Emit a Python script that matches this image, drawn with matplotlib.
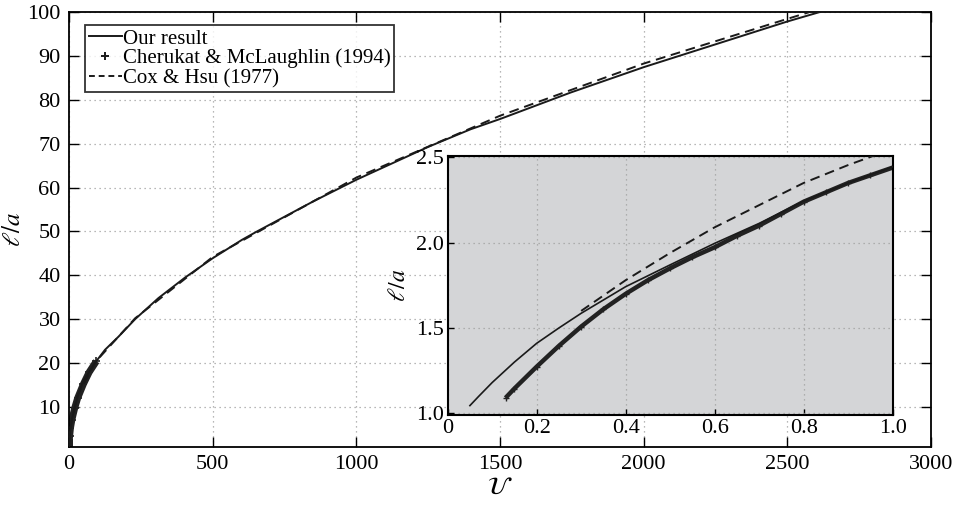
import matplotlib
matplotlib.use("Agg")
import matplotlib.pyplot as plt
from matplotlib.lines import Line2D

plt.rcParams['font.family'] = ['Liberation Serif', 'DejaVu Serif']
plt.rcParams['mathtext.fontset'] = 'stix'

# --- data ---
U_ours = [0.05, 0.07, 0.1, 0.15, 0.2, 0.25, 0.3, 0.4, 0.5, 0.6, 0.7, 0.8, 0.9, 1.0,
          3, 10, 30, 50, 90, 125, 172, 230, 311, 404, 500, 602, 654, 851, 1000, 1250,
          1397, 1502, 1746, 2001, 2500, 2610]
l_ours = [1.045, 1.10, 1.18, 1.30, 1.41, 1.50, 1.586, 1.742, 1.87, 1.996, 2.113, 2.244, 2.35, 2.445,
          4.09, 7.17, 12.5, 15.9, 20.0, 23.0, 26.0, 30.0, 34.8, 39.5, 43.9, 48.1, 50.0, 56.9, 61.8, 69.3,
          73.3, 75.7, 81.7, 87.5, 97.9, 100.0]

U_cher = [0.13, 0.15, 0.2, 0.25, 0.3, 0.35, 0.4, 0.45, 0.5, 0.55, 0.6, 0.65, 0.7, 0.75,
          0.8, 0.85, 0.9, 0.95, 1.0, 2, 5, 10, 20, 30, 50, 70, 95]
l_cher = [1.09, 1.145, 1.273, 1.395, 1.508, 1.61, 1.70, 1.78, 1.85, 1.915, 1.973, 2.04, 2.10, 2.17,
          2.24, 2.295, 2.35, 2.395, 2.44, 3.38, 5.2, 7.1, 9.8, 12.0, 15.2, 17.9, 20.4]

U_cox = [0.3, 0.4, 0.5, 0.6, 0.7, 0.8, 0.9, 1.0, 3, 10, 30, 90, 230, 500, 1000, 1500, 2000, 2500, 2575]
l_cox = [1.60, 1.78, 1.94, 2.09, 2.22, 2.35, 2.455, 2.55, 4.2, 7.25, 12.6, 20.1, 30.2, 44.2, 62.3, 76.4, 88.3, 98.5, 100.0]

main_xticks = [0, 500, 1000, 1500, 2000, 2500, 3000]
main_yticks = [10, 20, 30, 40, 50, 60, 70, 80, 90, 100]
inset_xticks = [0, 0.2, 0.4, 0.6, 0.8, 1.0]
inset_xticklabels = ['0', '0.2', '0.4', '0.6', '0.8', '1.0']
inset_yticks = [1.0, 1.5, 2.0, 2.5]
inset_yticklabels = ['1.0', '1.5', '2.0', '2.5']

labels = ['Our result', 'Cherukat & McLaughlin (1994)', 'Cox & Hsu (1977)']

fig = plt.figure(figsize=(9.59, 5.12), dpi=100)
ax = fig.add_axes([0.0720, 0.1275, 0.8988, 0.8485])

grid_kw = dict(color='#a0a0a0', linestyle=(0, (1, 3)), linewidth=0.9)
dash = (0, (5, 3))

# main
ax.plot(U_cher, l_cher, color='#222222', lw=5, solid_capstyle='butt', zorder=2)
ax.plot(U_cher, l_cher, linestyle='none', marker='+', ms=6, mew=1.2, color='#222222', zorder=2)
ax.plot(U_ours, l_ours, color='#1a1a1a', lw=1.4, zorder=3)
ax.plot(U_cox, l_cox, color='#1a1a1a', lw=1.4, linestyle=dash, zorder=3)
ax.set_xlim(0, 3000)
ax.set_ylim(0.9, 100)
ax.set_xticks(main_xticks)
ax.set_yticks(main_yticks)
ax.grid(True, **grid_kw)
ax.tick_params(direction='in', length=7, width=1.0, top=True, right=True, labelsize=16, pad=6)
for s in ax.spines.values():
    s.set_linewidth(1.3)
ax.set_xlabel(r'$\mathcal{U}$', fontsize=18, labelpad=2)
ax.set_ylabel(r'$\ell/a$', fontsize=18, va='center')
ax.yaxis.set_label_coords(-0.064, 0.5)

handles = [Line2D([], [], color='#1a1a1a', lw=1.4),
           Line2D([], [], color='#1a1a1a', linestyle='none', marker='+', ms=6, mew=1.4),
           Line2D([], [], color='#1a1a1a', lw=1.4, linestyle=(0, (3, 2)))]
leg = ax.legend(handles, labels, loc='upper left', bbox_to_anchor=(0.0186, 0.9708),
                fontsize=15, frameon=True, fancybox=False, edgecolor='black',
                handlelength=1.55, handletextpad=0.05, borderpad=0.2, labelspacing=0.0,
                borderaxespad=0.0)
leg.get_frame().set_linewidth(1.3)

# inset
ins = fig.add_axes([0.4668, 0.1895, 0.4640, 0.5058])
ins.set_facecolor('#d4d5d7')
ins.plot(U_cher, l_cher, color='#222222', lw=3.2, solid_capstyle='butt', zorder=2)
ins.plot(U_cher, l_cher, linestyle='none', marker='+', ms=5, mew=1.0, color='#222222', zorder=2)
ins.plot(U_ours, l_ours, color='#1a1a1a', lw=1.2, zorder=3)
ins.plot(U_cox, l_cox, color='#1a1a1a', lw=1.4, linestyle=dash, zorder=3)
ins.set_xlim(0, 1.0)
ins.set_ylim(0.99, 2.508)
ins.set_xticks(inset_xticks)
ins.set_xticklabels(inset_xticklabels)
ins.set_yticks(inset_yticks)
ins.set_yticklabels(inset_yticklabels)
ins.grid(True, **grid_kw)
ins.tick_params(direction='in', length=4, width=1.0, labelsize=16, pad=3)
for s in ins.spines.values():
    s.set_linewidth(1.5)
ins.set_ylabel(r'$\ell/a$', fontsize=17, labelpad=4)

fig.savefig('out.png', dpi=100)
